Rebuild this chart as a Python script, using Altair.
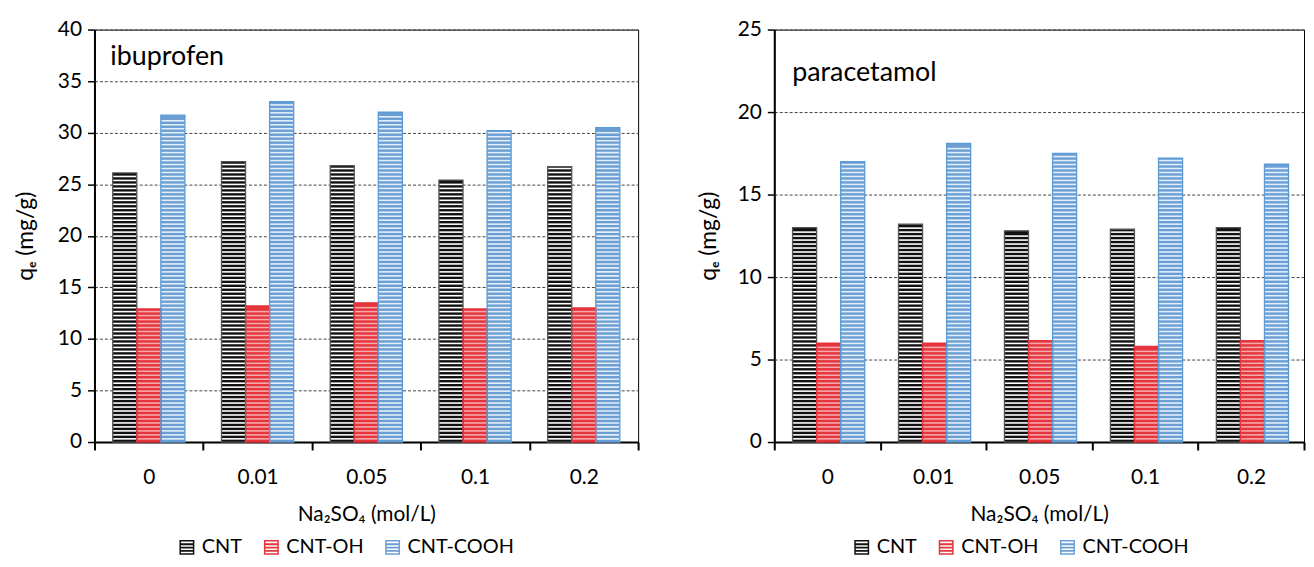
import altair as alt
import pandas as pd

categories = ["0", "0.01", "0.05", "0.1", "0.2"]
series = ["CNT", "CNT-OH", "CNT-COOH"]

ibu_cnt = [26.1, 27.2, 26.8, 25.4, 26.7]
ibu_oh = [12.9, 13.2, 13.5, 12.9, 13.0]
ibu_cooh = [31.7, 33.0, 32.0, 30.2, 30.5]

para_cnt = [13.0, 13.2, 12.8, 12.9, 13.0]
para_oh = [6.0, 6.0, 6.15, 5.8, 6.15]
para_cooh = [17.0, 18.1, 17.5, 17.2, 16.85]

FONT = "Lato"
H = 415
LW = 547
RW = 533

dark = ["#111111", "#E5343C", "#6B9FD4"]
light = ["#FFFFFF", "#F6A9AD", "#E4EEF8"]
edge = ["#555555", "#E5343C", "#5B9BD5"]

LEG_PATH = ("M-1,-1H1V1H-1Z M-0.8,-0.8V0.8H0.8V-0.8Z "
            "M-0.8,-0.55H0.8V-0.3H-0.8Z "
            "M-0.8,-0.1H0.8V0.15H-0.8Z "
            "M-0.8,0.35H0.8V0.6H-0.8Z")


def make_table(vals):
    rows = []
    for s, arr in zip(series, vals):
        for c, v in zip(categories, arr):
            rows.append({"conc": c, "series": s, "q": v})
    return pd.DataFrame(rows)


def make_stripes(df, ymax):
    unit = ymax / H          # data units per pixel
    period = 4.0 * unit
    thick = 1.6 * unit
    rows = []
    for _, r in df.iterrows():
        y = period * 0.6
        while y + thick < r["q"] - unit:
            rows.append({"conc": r["conc"], "series": r["series"], "lo": y, "hi": y + thick})
            y += period
    return pd.DataFrame(rows)


def panel(vals, ymax, width, name, text_x, text_y, legx, title_pad):
    df = make_table(vals)
    st = make_stripes(df, ymax)

    x = alt.X("conc:N", sort=categories,
              scale=alt.Scale(paddingInner=0, paddingOuter=0),
              axis=alt.Axis(title="Na₂SO₄ (mol/L)", labelAngle=0, tickBand="extent",
                            tickSize=8, tickWidth=2, tickColor="black",
                            domainColor="black", domainWidth=2,
                            labelFontSize=21, titleFontSize=21, titleFontWeight=400,
                            labelPadding=17, titlePadding=16, grid=False))
    xo = alt.XOffset("series:N", sort=series,
                     scale=alt.Scale(paddingInner=0, paddingOuter=0.76))
    yscale = alt.Scale(domain=[0, ymax], nice=False)
    y = alt.Y("q:Q", scale=yscale,
              axis=alt.Axis(values=list(range(0, ymax + 1, 5)), title="qₑ (mg/g)",
                            tickSize=7, tickWidth=1.5, tickColor="black",
                            domainColor="black", domainWidth=2,
                            labelFontSize=21, titleFontSize=23, titleFontWeight=400,
                            titleFont=FONT,
                            labelPadding=6, titlePadding=title_pad,
                            grid=True, gridDash=[3, 2], gridColor="#444444", gridWidth=1))

    bars = alt.Chart(df).mark_bar(strokeWidth=0).encode(
        x=x, xOffset=xo, y=y,
        color=alt.Color("series:N", sort=series,
                        scale=alt.Scale(domain=series, range=dark),
                        legend=alt.Legend(orient="none", legendX=legx, legendY=H + 96,
                                          direction="horizontal", title=None,
                                          symbolType=LEG_PATH, symbolSize=225,
                                          symbolStrokeWidth=0, labelFontSize=20,
                                          labelFont=FONT,
                                          labelColor="black", labelOffset=5,
                                          columnPadding=19)),
    )
    stripes = alt.Chart(st).mark_bar(strokeWidth=0).encode(
        x=alt.X("conc:N", sort=categories),
        xOffset=alt.XOffset("series:N", sort=series),
        y=alt.Y("lo:Q"), y2="hi:Q",
        fill=alt.Fill("series:N", sort=series,
                      scale=alt.Scale(domain=series, range=light), legend=None),
    )
    outline = alt.Chart(df).mark_bar(filled=False, strokeWidth=1.3).encode(
        x=alt.X("conc:N", sort=categories),
        xOffset=alt.XOffset("series:N", sort=series),
        y=alt.Y("q:Q"),
        stroke=alt.Stroke("series:N", sort=series,
                          scale=alt.Scale(domain=series, range=edge), legend=None),
    )
    label = alt.Chart(pd.DataFrame({"t": [name]})).mark_text(
        align="left", baseline="middle", fontSize=27, font=FONT, color="black"
    ).encode(x=alt.value(text_x), y=alt.value(text_y), text="t:N")

    return alt.layer(bars, stripes, outline, label).properties(width=width, height=H)


left = panel([ibu_cnt, ibu_oh, ibu_cooh], 40, LW, "ibuprofen", 16, 28, 83, 20)
right = panel([para_cnt, para_oh, para_cooh], 25, RW, "paracetamol", 18, 44, 78, 17)

chart = alt.hconcat(left, right, spacing=57).resolve_legend(color="independent").properties(
    padding={"left": 6, "top": 8, "right": 0, "bottom": 0}
).configure(font=FONT).configure_axis(
    labelFont=FONT, titleFont=FONT, labelFontSize=21, titleFontSize=21,
    titleFontWeight="normal", labelColor="black", titleColor="black"
).configure_view(stroke="black", strokeWidth=1)

chart.save("out.html", embed_options={"renderer": "svg", "actions": False})
